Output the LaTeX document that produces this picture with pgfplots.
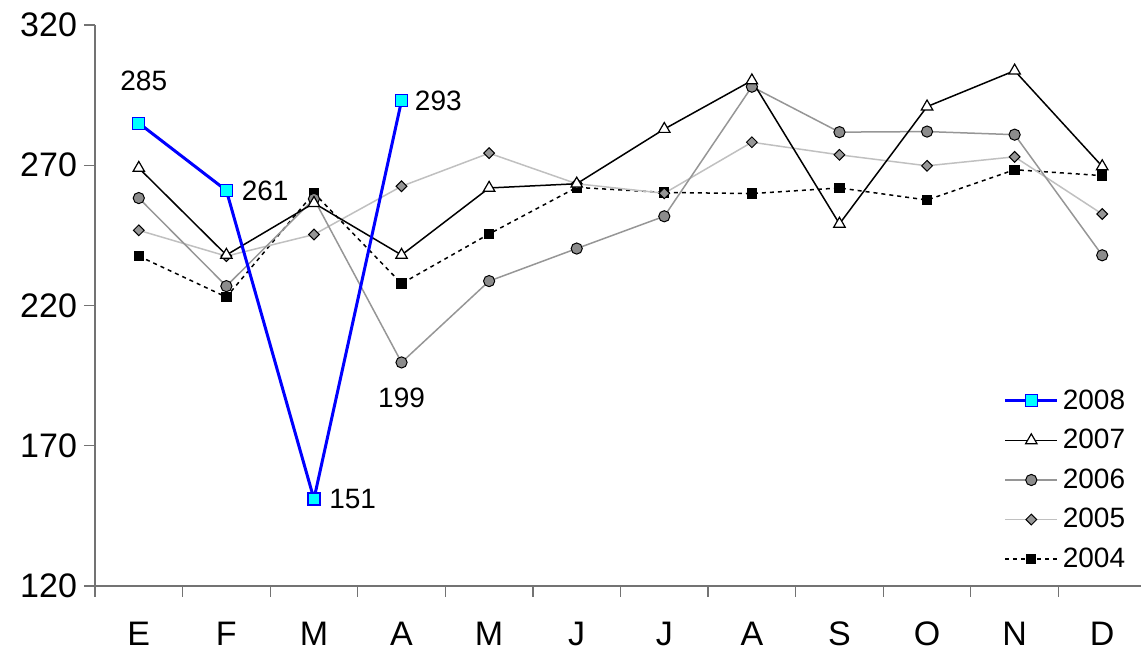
\documentclass[border=0pt]{standalone}
\usepackage{pgfplots}
\pgfplotsset{compat=1.18}
\usepackage{pgfplotstable}
\usepackage{fontspec}
\setmainfont{Liberation Sans}

\definecolor{gsix}{RGB}{150,150,150}
\definecolor{gfive}{RGB}{192,192,192}
\definecolor{mfill}{RGB}{140,140,140}
\definecolor{aqua}{RGB}{0,255,255}

% months 0..11 = E..D
\pgfplotstableread{
m  y2004 y2005 y2006 y2007
0  237.6 246.8 258.3 269.0
1  223.0 237.6 226.9 238.0
2  260.1 245.3 258.0 256.5
3  227.8 262.5 199.7 238.0
4  245.5 274.3 228.7 261.9
5  262.1 263.4 240.3 263.4
6  260.3 260.0 251.8 282.9
7  259.9 278.2 298.0 300.2
8  261.9 273.7 281.8 249.1
9  257.6 269.8 282.0 290.9
10 268.4 273.0 280.9 303.7
11 266.3 252.6 237.9 269.6
}\older

\pgfplotstableread{
m y2008
0 285
1 261
2 151
3 293
}\current

\begin{document}
\begin{tikzpicture}
\begin{axis}[
    scale only axis,
    width=525.5pt, height=280.5pt,
    at={(0,0)}, anchor=south west,
    xmin=-0.5, xmax=11.5,
    ymin=120, ymax=320,
    axis x line*=bottom,
    axis y line*=left,
    axis line style={black!55, line width=0.6pt, -},
    tick align=outside,
    major tick length=5.5pt,
    tick style={black!55, line width=0.6pt},
    xtick={-0.5,0.5,...,11.5},
    x tick label as interval,
    xticklabels={E,F,M,A,M,J,J,A,S,O,N,D},
    ytick={120,170,...,320},
    /pgf/number format/assume math mode=true,
    ticklabel style={font=\fontsize{17}{20}\selectfont},
    xticklabel style={yshift=-9pt},
    yticklabel style={xshift=0pt},
    clip=false,
    reverse legend,
    legend style={draw=none, fill=none,
        at={(0.99,0.365)}, anchor=north east,
        font=\fontsize{14}{16}\selectfont, row sep=4.5pt},
    legend cell align=left,
    legend image code/.code={\draw[mark repeat=2,mark phase=2,#1]
        plot coordinates {(0pt,0pt)(13pt,0pt)(26pt,0pt)};},
]
\addplot[black, line width=0.75pt, dash pattern=on 2pt off 2pt,
    mark=square*, mark size=2.2pt, mark options={solid}]
    table[x=m, y=y2004] {\older};
\addlegendentry{2004}
\addplot[gfive, line width=0.75pt,
    mark=square*, mark size=1.9pt,
    mark options={rotate=45, fill=gsix, draw=black, line width=0.5pt}]
    table[x=m, y=y2005] {\older};
\addlegendentry{2005}
\addplot[gsix, line width=0.75pt,
    mark=*, mark size=2.8pt, mark options={fill=mfill, draw=black, line width=0.5pt}]
    table[x=m, y=y2006] {\older};
\addlegendentry{2006}
\addplot[black, line width=0.75pt,
    mark=triangle*, mark size=3.3pt, mark options={fill=white, draw=black, line width=0.6pt}]
    table[x=m, y=y2007] {\older};
\addlegendentry{2007}
\addplot[blue, line width=1.5pt,
    mark=square*, mark size=3pt, mark options={fill=aqua, draw=blue, line width=0.6pt}]
    table[x=m, y=y2008] {\current};
\addlegendentry{2008}

\begin{scope}[font=\fontsize{14}{16}\selectfont, inner sep=0pt]
\node[anchor=south] at (axis cs:0,285) [xshift=2.5pt, yshift=15.8pt] {285};
\node[anchor=west] at (axis cs:1,261) [xshift=7.5pt] {261};
\node[anchor=west] at (axis cs:2,151) [xshift=7.5pt] {151};
\node[anchor=west] at (axis cs:3,293) [xshift=6.5pt] {293};
\node[anchor=north] at (axis cs:3,199.7) [yshift=-12.5pt] {199};
\end{scope}
\end{axis}
\pgfresetboundingbox
\path (-47.5pt,-32.5pt) rectangle (523pt,293pt);
\end{tikzpicture}
\end{document}
